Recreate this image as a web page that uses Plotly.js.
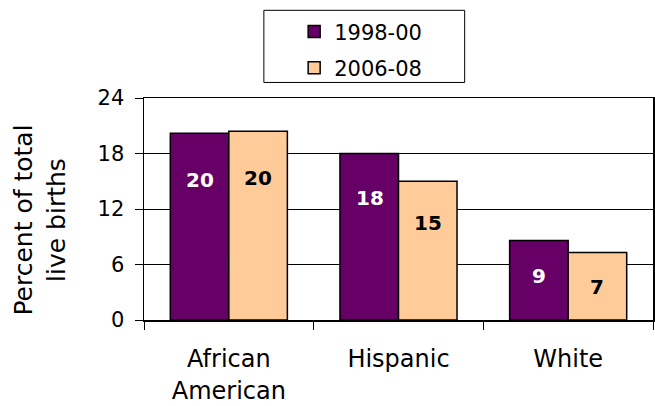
<!DOCTYPE html>
<html>
<head>
<meta charset="utf-8">
<script src="https://cdn.plot.ly/plotly-3.0.1.min.js"></script>
<style>html,body{margin:0;padding:0;background:#fff;}#chart{width:655px;height:406px;}</style>
</head>
<body>
<div id="chart"></div>
<script>
const categories = ["African<br>American", "Hispanic", "White"];
const seriesNames = ["1998-00", "2006-08"];
const values1998 = [20.2, 18.0, 8.6];
const values2006 = [20.4, 15.0, 7.3];
const yTicks = [0, 6, 12, 18, 24];
const yTitle = "Percent of total<br>live births";

const FONT = "DejaVu Sans";
const colors = ["#660066", "#FFCC99"];
const labelColors = ["#ffffff", "#000000"];
const series = [values1998, values2006];

const traces = series.map((vals, i) => ({
  type: "bar",
  name: seriesNames[i],
  x: categories,
  y: vals,
  legendgroup: "g" + i,
  marker: {color: colors[i], line: {color: "#000", width: 1.5}},
  hoverinfo: "skip"
}));

const annotations = [];
series.forEach((vals, i) => {
  vals.forEach((v, j) => {
    annotations.push({
      x: categories[j], y: v * 0.9 - 3, xref: "x", yref: "y",
      xshift: i === 0 ? -29 : 29,
      text: String(Math.round(v)), showarrow: false,
      font: {family: FONT, size: 20, color: labelColors[i], weight: "bold"},
      xanchor: "center", yanchor: "middle"
    });
  });
});
annotations.push({
  xref: "paper", yref: "paper", x: -0.2033, y: 0.45,
  xanchor: "center", yanchor: "middle", textangle: -90,
  text: yTitle, showarrow: false,
  font: {family: FONT, size: 25, color: "#000"}
});

const layout = {
  width: 655, height: 406,
  margin: {l: 144, r: 2, t: 98, b: 86},
  paper_bgcolor: "#fff", plot_bgcolor: "#fff",
  font: {family: FONT, color: "#000"},
  barmode: "group", bargap: 0.31, bargroupgap: 0,
  showlegend: true,
  legend: {
    x: 0.295, xanchor: "left", y: 1.39, yanchor: "top",
    bgcolor: "rgba(0,0,0,0)", borderwidth: 0,
    font: {family: FONT, size: 21, color: "#000"},
    tracegroupgap: 6
  },
  shapes: [{
    type: "rect", xref: "paper", yref: "paper",
    x0: 0.2355, x1: 0.630, y0: 1.070, y1: 1.395,
    line: {color: "#000", width: 1}, fillcolor: "rgba(0,0,0,0)"
  }],
  xaxis: {
    type: "category",
    showline: true, linecolor: "#000", linewidth: 1.5, mirror: true,
    ticks: "outside", tickson: "boundaries", ticklen: 8, tickcolor: "#000",
    tickfont: {family: FONT, size: 24, color: "#000"},
    ticklabelstandoff: 17,
    showgrid: false, zeroline: false, fixedrange: true
  },
  yaxis: {
    range: [0, 24], tickvals: yTicks,
    showline: true, linecolor: "#000", linewidth: 1.5, mirror: true,
    ticks: "outside", ticklen: 8, tickcolor: "#000",
    tickfont: {family: FONT, size: 21, color: "#000"},
    ticklabelstandoff: 6,
    showgrid: true, gridcolor: "#000", gridwidth: 1,
    zeroline: false, fixedrange: true
  },
  annotations: annotations
};

Plotly.newPlot("chart", traces, layout, {displayModeBar: false, staticPlot: true});
</script>
</body>
</html>
